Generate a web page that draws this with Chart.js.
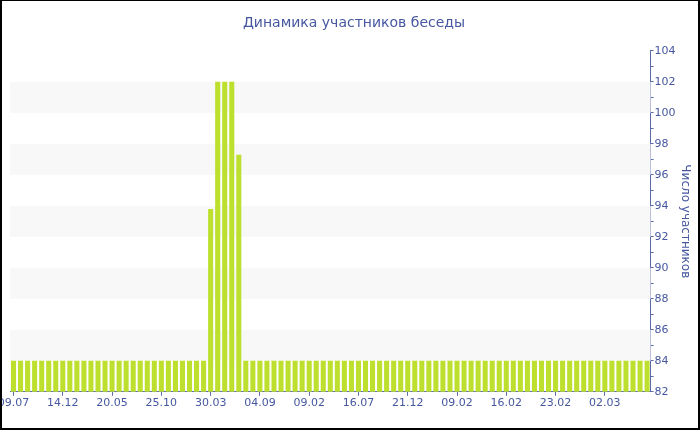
<!DOCTYPE html>
<html>
<head>
<meta charset="utf-8">
<script src="https://cdn.jsdelivr.net/npm/chart.js@4"></script>
<style>
  body { margin: 0; background: #fff; }
  #wrap {
    width: 700px; height: 430px; box-sizing: border-box;
    border: 2px solid #000; border-top-width: 1px;
    position: relative; overflow: hidden;
  }
  #wrap canvas { display: block; }
</style>
</head>
<body>
<div id="wrap"><canvas id="membersChart" width="696" height="427"></canvas></div>
<script>
// x labels every 7th bar
const tickLabels = ['09.07', '14.12', '20.05', '25.10', '30.03', '04.09', '09.02',
                    '16.07', '21.12', '09.02', '16.02', '23.02', '02.03'];
const labelStep = 7;

// number of members per period (91 bars)
const members = [
    84, 84, 84, 84, 84, 84, 84, 84, 84, 84, 84, 84, 84, 84,
    84, 84, 84, 84, 84, 84, 84, 84, 84, 84, 84, 84, 84, 84,
    93.8, 102, 102, 102, 97.3, 84, 84, 84, 84, 84, 84, 84, 84, 84,
    84, 84, 84, 84, 84, 84, 84, 84, 84, 84, 84, 84, 84, 84,
    84, 84, 84, 84, 84, 84, 84, 84, 84, 84, 84, 84, 84, 84,
    84, 84, 84, 84, 84, 84, 84, 84, 84, 84, 84, 84, 84, 84,
    84, 84, 84, 84, 84, 84, 84
];

const categories = members.map((v, i) => i);
const bandStarts = [84, 88, 92, 96, 100];

const blue = '#4657a0';
const axisBlue = '#5b6aa8';

// alternating horizontal bands behind the bars
const bandsPlugin = {
    id: 'bands',
    beforeDatasetsDraw(chart) {
        const { ctx, chartArea } = chart;
        const y = chart.scales.y;
        ctx.save();
        ctx.fillStyle = '#f8f8f8';
        bandStarts.forEach(function (v) {
            const top = y.getPixelForValue(v + 2);
            const bottom = y.getPixelForValue(v);
            ctx.fillRect(chartArea.left, top, chartArea.right - chartArea.left, bottom - top);
        });
        ctx.restore();
    }
};

Chart.defaults.font.family = '"DejaVu Sans", Verdana, sans-serif';
Chart.defaults.font.size = 11;
Chart.defaults.color = blue;

new Chart(document.getElementById('membersChart'), {
    type: 'bar',
    data: {
        labels: categories,
        datasets: [{
            label: 'Число участников',
            data: members,
            backgroundColor: '#bde02f',
            borderWidth: 0,
            barPercentage: 0.72,
            categoryPercentage: 1
        }]
    },
    options: {
        responsive: false,
        animation: false,
        layout: { padding: { left: 8, right: 0, top: 0, bottom: 17 } },
        plugins: {
            legend: { display: false },
            tooltip: { enabled: false },
            title: {
                display: true,
                text: 'Динамика участников беседы',
                color: blue,
                font: { size: 14, weight: 'normal' },
                padding: { top: 14, bottom: 19 }
            }
        },
        scales: {
            x: {
                offset: true,
                grid: {
                    offset: false,
                    drawOnChartArea: false,
                    drawTicks: true,
                    tickLength: 4,
                    color: axisBlue
                },
                border: { color: axisBlue, width: 1 },
                ticks: {
                    autoSkip: false,
                    maxRotation: 0,
                    padding: 1,
                    color: blue,
                    callback: function (value, index) {
                        return index % labelStep === 0 ? tickLabels[index / labelStep] : null;
                    }
                },
                afterFit: function (scale) {
                    scale.paddingLeft = 0;
                    scale.paddingRight = 0;
                }
            },
            y: {
                position: 'right',
                min: 82,
                max: 104,
                grid: {
                    drawOnChartArea: false,
                    drawTicks: true,
                    tickLength: 3,
                    color: axisBlue
                },
                border: { color: axisBlue, width: 1 },
                ticks: {
                    stepSize: 1,
                    autoSkip: false,
                    padding: 1,
                    color: blue,
                    callback: function (value) {
                        return value % 2 === 0 ? value : '';
                    }
                },
                title: {
                    display: true,
                    text: 'Число участников',
                    color: blue,
                    font: { size: 12 },
                    padding: { top: 6, bottom: 1 }
                }
            }
        }
    },
    plugins: [bandsPlugin]
});
</script>
</body>
</html>
